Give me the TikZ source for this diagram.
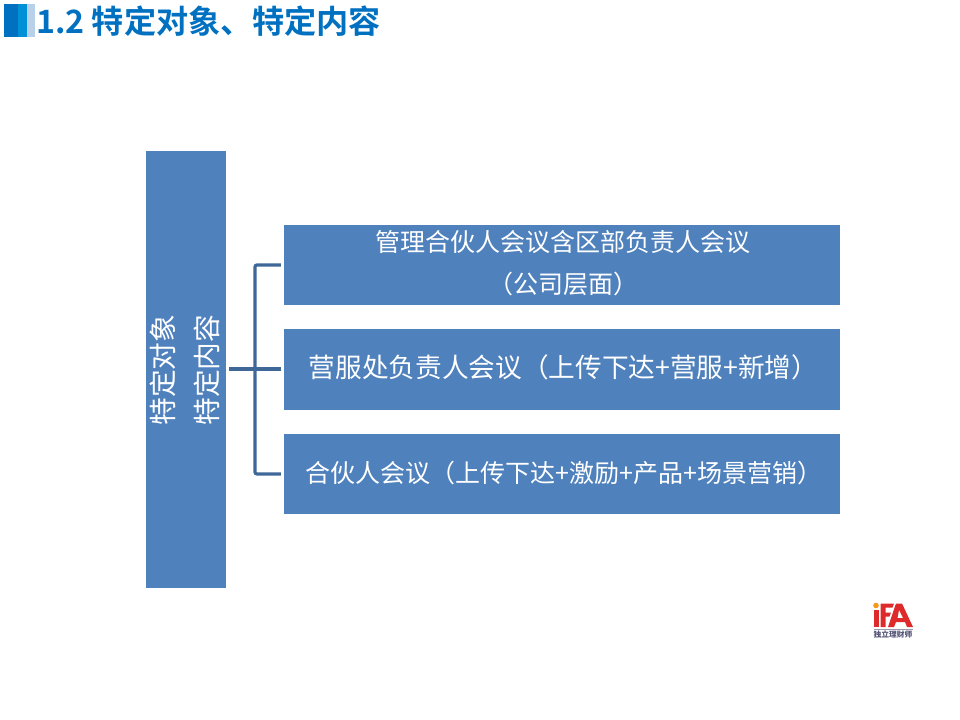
\documentclass[tikz,border=0pt]{standalone}
\usepackage{fontspec}
\setmainfont{Noto Sans CJK SC}
\newfontfamily\titlefont[BoldFont=Noto Sans CJK SC Bold]{Noto Sans CJK SC}
\definecolor{boxblue}{HTML}{4F81BD}
\definecolor{linkblue}{HTML}{3F6797}
\definecolor{titleblue}{HTML}{0070C0}
\definecolor{barmid}{HTML}{0090D8}
\definecolor{barpale}{HTML}{B8D0E8}
\definecolor{logored}{HTML}{DE2A2A}
\definecolor{logoorange}{HTML}{F39A1E}
\definecolor{logotext}{HTML}{555577}
\tikzset{
  x=0.75pt,y=-0.75pt,
  bluebox/.style={fill=boxblue,draw=none,text=white,inner sep=0pt,align=center},
  link/.style={draw=linkblue,line width=2.4pt,rounded corners=1.5pt},
}
\begin{document}
\begin{tikzpicture}
\useasboundingbox (0,0) rectangle (960,720);
% header
\fill[titleblue] (4,4) rectangle (18,37);
\fill[barmid] (18,4) rectangle (27,37);
\fill[barpale] (27,4) rectangle (35,37);
\node[anchor=west,inner sep=0pt,text=titleblue,font=\titlefont\bfseries\fontsize{24.1}{28}\selectfont] (title) at (36,21) {1.2 特定对象、特定内容};
% boxes
\node[bluebox,minimum width=60pt,minimum height=327pt] (left) at (186,369.5) {};
\node[text=white,inner sep=0pt,rotate=90,align=center,font=\fontsize{20.8}{33}\selectfont] (lefttext) at (185,370) {特定对象\\特定内容};
\node[bluebox,minimum width=417pt,minimum height=60pt] (b1) at (562,265) {};
\node[text=white,inner sep=0pt,align=center,font=\fontsize{18.75}{31.5}\selectfont] (b1text) at (563,263.5) {管理合伙人会议含区部负责人会议\\（公司层面）};
\node[bluebox,minimum width=417pt,minimum height=60.5pt] (b2) at (562,369.5) {};
\node[text=white,inner sep=0pt,font=\fontsize{20}{24}\selectfont] (b2text) at (563.5,367.5) {营服处负责人会议（上传下达+营服+新增）};
\node[bluebox,minimum width=417pt,minimum height=60pt] (b3) at (562,474) {};
\node[text=white,inner sep=0pt,font=\fontsize{18.75}{24}\selectfont] (b3text) at (564,472.5) {合伙人会议（上传下达+激励+产品+场景营销）};
% connectors
\coordinate (trunk) at (255,369);
\draw[link,shorten <=2.2pt,shorten >=2.2pt] (left.east |- trunk) -- (b2.west |- trunk);
\draw[link,shorten >=2.2pt] (trunk) |- (b1.west);
\draw[link,shorten >=2.2pt] (trunk) |- (b3.west);
% logo
\fill[logoorange] (876,605.5) circle (2.8);
\fill[logored] (874,610) rectangle (878.5,627);
\fill[logored] (880.5,603.5) -- (894,603.5) -- (892.5,607.5) -- (885.5,607.5) -- (885.5,612.5) -- (891,612.5) -- (889.5,616.5) -- (885.5,616.5) -- (885.5,627) -- (880.5,627) -- cycle;
\fill[logored,even odd rule] (896,603.5) -- (902,603.5) -- (913,627) -- (907,627) -- (905,622) -- (896,622) -- (894,627) -- (888,627) -- cycle (899,610) -- (897.5,618) -- (903,618) -- cycle;
\fill[logotext!60] (874,629) rectangle (913,629.6);
\node[inner sep=0pt,text=logotext,font=\bfseries\fontsize{5.8}{6}\selectfont] (logotxt) at (893,635) {独立理财师};
\end{tikzpicture}
\end{document}
